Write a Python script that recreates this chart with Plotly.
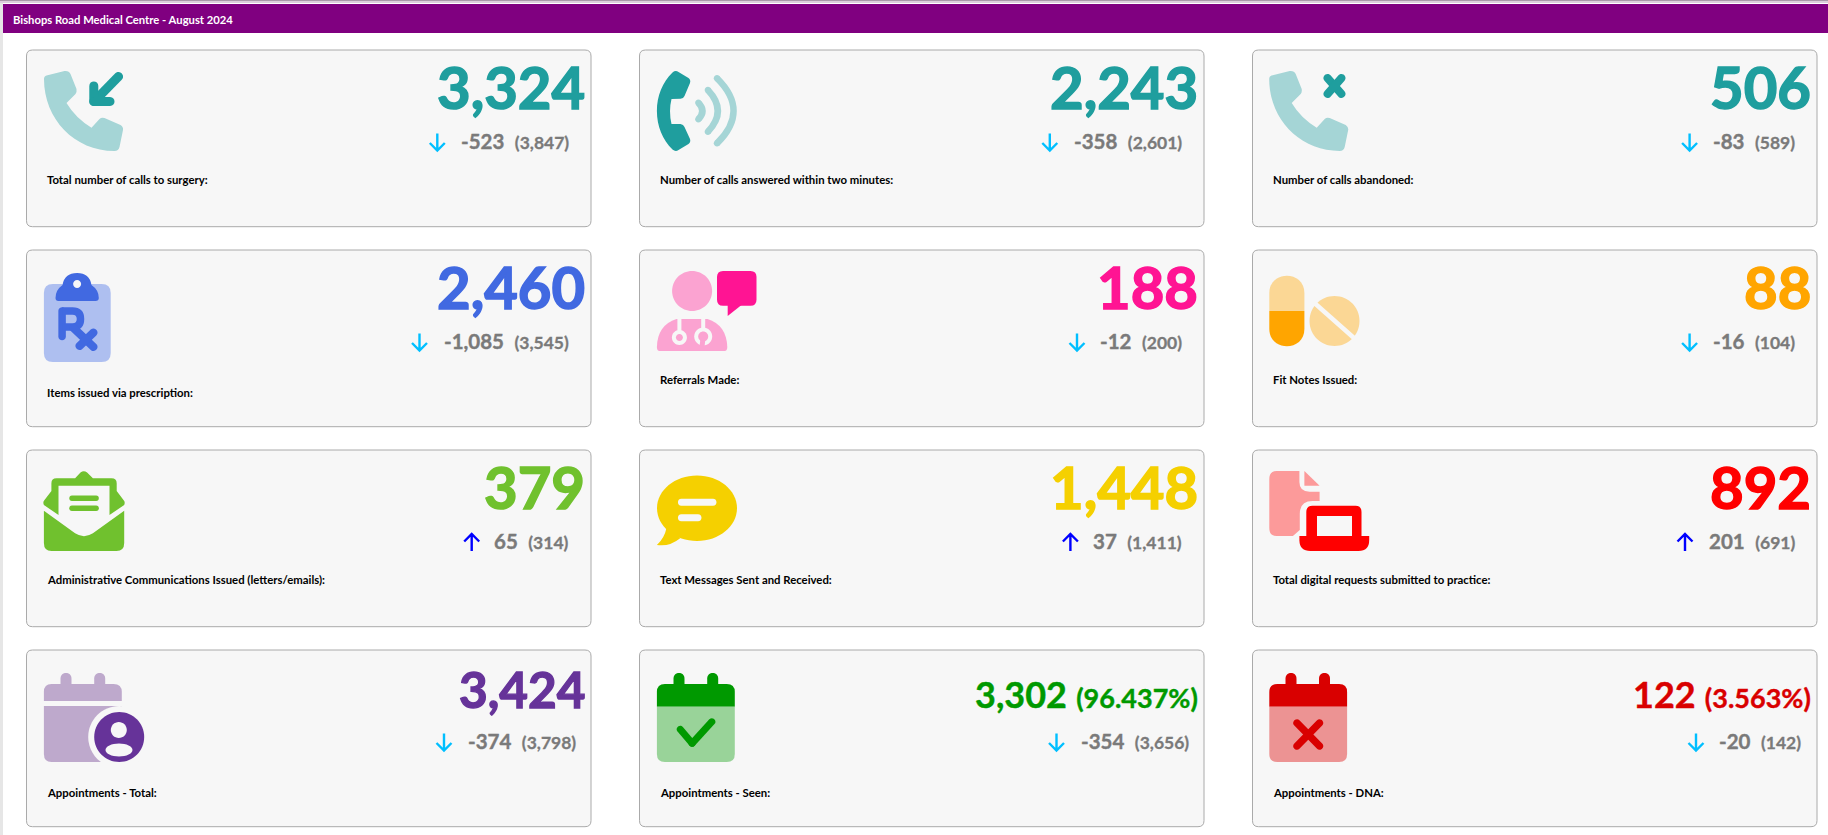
import math
import plotly.graph_objects as go

# Valores dos cartoes
titulo = "Bishops Road Medical Centre - August 2024"
rotulos = [
    "Total number of calls to surgery:", "Number of calls answered within two minutes:", "Number of calls abandoned:",
    "Items issued via prescription:", "Referrals Made:", "Fit Notes Issued:",
    "Administrative Communications Issued (letters/emails):", "Text Messages Sent and Received:",
    "Total digital requests submitted to practice:",
    "Appointments - Total:", "Appointments - Seen:", "Appointments - DNA:",
]
valores = [3324, 2243, 506, 2460, 188, 88, 379, 1448, 892, 3424, 3302, 122]
variacao = [-523, -358, -83, -1085, -12, -16, 65, 37, 201, -374, -354, -20]
anterior = [3847, 2601, 589, 3545, 200, 104, 314, 1411, 691, 3798, 3656, 142]
percentual = [None] * 10 + ["96.437%", "3.563%"]

cores = ["#1f9e9e", "#1f9e9e", "#1f9e9e", "#4169e1", "#ff1493", "#ffa500",
         "#70c12e", "#f5d000", "#ff0000", "#663399", "#009900", "#d90000"]

# Layout em pixels
L, A = 1828, 835
col_x = [26.5, 639.5, 1252.5]
col_dir = [591, 1204, 1817]
lin_y = [50, 250, 450, 650]
alt_cartao = 176.7
fundo = "#f7f7f7"
tam_valor = [58, 58, 58, 58, 58, 58, 58, 58, 58, 49.5, 36, 36]
traco_valor = [1.5, 1.5, 1.5, 1.5, 1.5, 1.5, 1.5, 1.5, 1.5, 1.3, 0.4, 0.4]
rot_y = [130, 130, 130, 143, 130, 130, 130, 130, 130, 143, 143, 143]
sub_dir = [22, 22, 22, 22, 22, 22, 22, 22, 22, 15, 15.5, 16]
seta_x = [437.3, 1049.8, 1689.6, 419.5, 1077, 1689.6, 471.7, 1070.4, 1685, 444, 1056.5, 1696]

shapes = []
annotations = []


def forma(d, cor, linha=None, lw=0):
    shapes.append(dict(type="path", path=d, xref="x", yref="y", fillcolor=cor, layer="above",
                       line=dict(color=linha or cor, width=lw)))


def retangulo(x0, y0, x1, y1, r):
    return (f"M{x0+r},{y0} L{x1-r},{y0} Q{x1},{y0} {x1},{y0+r} L{x1},{y1-r} Q{x1},{y1} {x1-r},{y1} "
            f"L{x0+r},{y1} Q{x0},{y1} {x0},{y1-r} L{x0},{y0+r} Q{x0},{y0} {x0+r},{y0} Z")


def elipse(cx, cy, rx, ry=None):
    ry = ry or rx
    k = 0.5523
    return (f"M{cx-rx},{cy} C{cx-rx},{cy-k*ry} {cx-k*rx},{cy-ry} {cx},{cy-ry} "
            f"C{cx+k*rx},{cy-ry} {cx+rx},{cy-k*ry} {cx+rx},{cy} "
            f"C{cx+rx},{cy+k*ry} {cx+k*rx},{cy+ry} {cx},{cy+ry} "
            f"C{cx-k*rx},{cy+ry} {cx-rx},{cy+k*ry} {cx-rx},{cy} Z")


def capsula(x0, y0, x1, y1, w):
    a = math.atan2(y1 - y0, x1 - x0)
    r = w / 2
    nx, ny = -math.sin(a) * r, math.cos(a) * r
    tx, ty = math.cos(a) * r * 1.33, math.sin(a) * r * 1.33
    return (f"M{x0+nx},{y0+ny} L{x1+nx},{y1+ny} C{x1+nx+tx},{y1+ny+ty} {x1-nx+tx},{y1-ny+ty} {x1-nx},{y1-ny} "
            f"L{x0-nx},{y0-ny} C{x0-nx-tx},{y0-ny-ty} {x0+nx-tx},{y0+ny-ty} {x0+nx},{y0+ny} Z")


def telefone(x, y, cor):
    forma(f"M{x+17.5},{y+29} Q{x+17.5},{y+26} {x+20},{y+25.5} L{x+38},{y+21} Q{x+42.5},{y+20.5} {x+44},{y+24} "
          f"L{x+50},{y+39} Q{x+50.5},{y+42} {x+49},{y+44} L{x+40},{y+53} Q{x+49},{y+68} {x+65},{y+77.7} "
          f"L{x+73},{y+69} Q{x+75},{y+67} {x+78},{y+68} L{x+94},{y+75} Q{x+97},{y+77} {x+96.5},{y+80} "
          f"L{x+93},{y+97} Q{x+92},{y+101} {x+88},{y+101} C{x+48},{y+101} {x+17.5},{y+69} {x+17.5},{y+29} Z", cor)


def arco(x, y, p0, c, p1, w, cor):
    shapes.append(dict(type="path", xref="x", yref="y", layer="above",
                       path=f"M{x+p0[0]},{y+p0[1]} Q{x+c[0]},{y+c[1]} {x+p1[0]},{y+p1[1]}",
                       line=dict(color=cor, width=w)))
    forma(elipse(x + p0[0], y + p0[1], w / 2), cor)
    forma(elipse(x + p1[0], y + p1[1], w / 2), cor)


def calendario_pinos(x, y, cor, x0, x1):
    for px in (x0, x1):
        forma(capsula(x + px, y + 28.5, x + px, y + 38, 11), cor)


# Icones, um por cartao
def icone_entrada(x, y, c, cl):
    telefone(x, y, cl)
    forma(capsula(x + 92, y + 26.5, x + 70, y + 49, 9), c)
    forma(capsula(x + 67.3, y + 36, x + 67.3, y + 51.5, 9), c)
    forma(capsula(x + 67.3, y + 51.5, x + 83.5, y + 51.5, 9), c)


def icone_atendidas(x, y, c, cl):
    forma(f"M{x+33},{y+22.5} Q{x+36},{y+20} {x+39},{y+22} L{x+49},{y+28} Q{x+51.5},{y+30} {x+50.5},{y+33} "
          f"L{x+45},{y+46} Q{x+44},{y+48.5} {x+41},{y+48.7} L{x+32},{y+49} Q{x+29},{y+61} {x+32},{y+74} "
          f"L{x+41},{y+74} Q{x+44},{y+74.5} {x+45},{y+77} L{x+50.5},{y+89} Q{x+51.5},{y+92} {x+49},{y+94} "
          f"L{x+39},{y+100} Q{x+36},{y+102} {x+33},{y+99.5} C{x+23},{y+90} {x+17.4},{y+76} {x+17.4},{y+61} "
          f"C{x+17.4},{y+46} {x+23},{y+32} {x+33},{y+22.5} Z", c)
    arco(x, y, (58.9, 52.7), (66.9, 61), (58.9, 69.3), 6.5, cl)
    arco(x, y, (68.4, 40), (88.2, 61), (68.4, 81.7), 6.5, cl)
    arco(x, y, (77.5, 28.3), (110.6, 61), (77.5, 93.3), 6.5, cl)


def icone_abandonadas(x, y, c, cl):
    telefone(x - 0.8, y, cl)
    forma(capsula(x + 75, y + 28, x + 89, y + 44, 8), c)
    forma(capsula(x + 89, y + 28, x + 75, y + 44, 8), c)


def icone_receita(x, y, c, cl):
    forma(retangulo(x + 17.4, y + 34, x + 84.2, y + 112, 9), cl)
    forma(f"M{x+29},{y+48} Q{x+29},{y+40} {x+36},{y+35} Q{x+38},{y+23} {x+50.6},{y+23} Q{x+63},{y+23} {x+65},{y+35} "
          f"Q{x+72.3},{y+40} {x+72.3},{y+48} Q{x+72.3},{y+51} {x+69},{y+51} L{x+32},{y+51} Q{x+29},{y+51} {x+29},{y+48} Z", c)
    forma(elipse(x + 50.6, y + 34, 4), fundo)
    forma(capsula(x + 35.6, y + 61, x + 35.6, y + 86.5, 7.5), c)
    shapes.append(dict(type="path", xref="x", yref="y", layer="above",
                       path=f"M{x+35.6},{y+61} L{x+46},{y+61} Q{x+54},{y+61} {x+54},{y+69} Q{x+54},{y+77} {x+46},{y+77} L{x+35.6},{y+77}",
                       line=dict(color=c, width=7.5)))
    forma(capsula(x + 47, y + 78, x + 67, y + 97, 8), c)
    forma(capsula(x + 67, y + 82.5, x + 53, y + 96, 8), c)


def icone_medico(x, y, c, cl):
    forma(elipse(x + 52.6, y + 41, 20), cl)
    forma(f"M{x+20},{y+101} Q{x+17.4},{y+101} {x+17.4},{y+97} Q{x+18},{y+75} {x+37},{y+69} L{x+68},{y+69} "
          f"Q{x+87},{y+75} {x+87.8},{y+97} Q{x+87.8},{y+101} {x+85},{y+101} Z", cl)
    forma(capsula(x + 39.9, y + 68, x + 39.9, y + 82, 4), fundo)
    forma(elipse(x + 39.9, y + 87.5, 7.5), fundo)
    forma(elipse(x + 39.9, y + 87.5, 3.5), cl)
    forma(capsula(x + 63.7, y + 68, x + 63.7, y + 79, 4), fundo)
    forma(elipse(x + 63.7, y + 86.5, 9), fundo)
    forma(elipse(x + 63.7, y + 86.5, 5), cl)
    forma(f"M{x+61},{y+88} L{x+66},{y+88} L{x+65},{y+97} L{x+60},{y+97} Z", cl)
    forma(retangulo(x + 77.5, y + 21, x + 117, y + 55.7, 6), c)
    forma(f"M{x+88.2},{y+55} L{x+88.2},{y+66} L{x+102},{y+55} Z", c)


def icone_pilulas(x, y, c, cl):
    forma(f"M{x+16.8},{y+61} L{x+16.8},{y+43} C{x+16.8},{y+20} {x+51.9},{y+20} {x+51.9},{y+43} L{x+51.9},{y+61} Z", cl)
    forma(f"M{x+16.8},{y+61} L{x+16.8},{y+79} C{x+16.8},{y+102} {x+51.9},{y+102} {x+51.9},{y+79} L{x+51.9},{y+61} Z", c)
    forma(elipse(x + 82, y + 71, 25), cl)
    forma(capsula(x + 62.5, y + 53.5, x + 101.5, y + 88, 4.5), fundo)


def icone_envelope(x, y, c, cl):
    forma(f"M{x+17.4},{y+60.7} L{x+48.6},{y+83.3} Q{x+57.5},{y+89} {x+66.4},{y+83.3} L{x+97.7},{y+60.7} "
          f"L{x+97.7},{y+93} Q{x+97.7},{y+101} {x+90},{y+101} L{x+25},{y+101} Q{x+17.4},{y+101} {x+17.4},{y+93} Z", c)
    forma(f"M{x+17.4},{y+55} Q{x+16},{y+52} {x+18},{y+50} L{x+24.9},{y+41} L{x+24.9},{y+33.3} Q{x+24.9},{y+28.3} {x+30},{y+28.3} "
          f"L{x+48.6},{y+28.3} L{x+54},{y+22.5} Q{x+57.3},{y+20} {x+60.6},{y+22.5} L{x+66.4},{y+28.3} L{x+85},{y+28.3} "
          f"Q{x+90.2},{y+28.3} {x+90.2},{y+33.3} L{x+90.2},{y+41} L{x+97},{y+50} Q{x+99},{y+52} {x+97.7},{y+55} "
          f"L{x+83},{y+65} L{x+83},{y+35.7} L{x+32},{y+35.7} L{x+32},{y+65} Z", c)
    forma(capsula(x + 45.5, y + 48.3, x + 69.6, y + 48.3, 5.5), c)
    forma(capsula(x + 45.5, y + 58.3, x + 69.6, y + 58.3, 5.5), c)


def icone_mensagem(x, y, c, cl):
    forma(elipse(x + 57.5, y + 58.3, 40, 32.7), c)
    forma(f"M{x+27},{y+78} Q{x+25},{y+88} {x+17.4},{y+95} Q{x+30},{y+97} {x+41},{y+88} Z", c)
    forma(capsula(x + 41.9, y + 52.3, x + 73.5, y + 52.3, 7), fundo)
    forma(capsula(x + 41.9, y + 67.7, x + 58.5, y + 67.7, 7), fundo)


def icone_digital(x, y, c, cl):
    forma(f"M{x+24},{y+21} L{x+46.9},{y+21} L{x+46.9},{y+32} Q{x+46.9},{y+41.7} {x+57},{y+41.7} L{x+67.1},{y+41.7} "
          f"L{x+67.1},{y+51} L{x+60},{y+51} Q{x+47.3},{y+51} {x+47.3},{y+64} L{x+47.3},{y+80} L{x+40.4},{y+86} "
          f"L{x+24},{y+86} Q{x+16.8},{y+86} {x+16.8},{y+78} L{x+16.8},{y+29} Q{x+16.8},{y+21} {x+24},{y+21} Z", cl)
    forma(f"M{x+51.9},{y+21} L{x+67.1},{y+35.7} L{x+51.9},{y+35.7} Z", cl)
    forma(f"M{x+53.8},{y+88} L{x+53.8},{y+62} Q{x+53.8},{y+55.7} {x+60},{y+55.7} L{x+103},{y+55.7} Q{x+109},{y+55.7} {x+109},{y+62} "
          f"L{x+109},{y+88} Z", c)
    forma(f"M{x+64.5},{y+66} L{x+99.5},{y+66} L{x+99.5},{y+87} L{x+64.5},{y+87} Z", fundo)
    forma(f"M{x+46.9},{y+86} L{x+116.7},{y+86} L{x+116.7},{y+90} Q{x+116.7},{y+101} {x+106},{y+101} L{x+58},{y+101} "
          f"Q{x+46.9},{y+101} {x+46.9},{y+90} Z", c)


def icone_cal_total(x, y, c, cl):
    calendario_pinos(x, y, cl, 39.5, 73.2)
    forma(f"M{x+17.4},{y+51} L{x+17.4},{y+42} Q{x+17.4},{y+34} {x+25},{y+34} L{x+87},{y+34} Q{x+95.3},{y+34} {x+95.3},{y+42} L{x+95.3},{y+51} Z", cl)
    forma(f"M{x+17.4},{y+56} L{x+95.3},{y+56} L{x+95.3},{y+112} L{x+25},{y+112} Q{x+17.4},{y+112} {x+17.4},{y+104} Z", cl)
    forma(elipse(x + 92.7, y + 87, 31), fundo)
    forma(elipse(x + 92.7, y + 87, 25), c)
    forma(elipse(x + 92.3, y + 80, 8), fundo)
    forma(elipse(x + 92.5, y + 100, 13.5, 6.5), fundo)


def icone_cal_status(x, y, c, cl, x0, x1, p0, p1):
    calendario_pinos(x, y, c, p0, p1)
    forma(f"M{x+x0},{y+56.7} L{x+x0},{y+42} Q{x+x0},{y+34} {x+x0+8},{y+34} L{x+x1-8},{y+34} Q{x+x1},{y+34} {x+x1},{y+42} L{x+x1},{y+56.7} Z", c)
    forma(f"M{x+x0},{y+56.7} L{x+x1},{y+56.7} L{x+x1},{y+104} Q{x+x1},{y+112} {x+x1-8},{y+112} L{x+x0+8},{y+112} Q{x+x0},{y+112} {x+x0},{y+104} Z", cl)


def icone_cal_visto(x, y, c, cl):
    icone_cal_status(x, y, c, cl, 17.4, 95.3, 39.5, 73.2)
    forma(capsula(x + 40.7, y + 79.3, x + 52.6, y + 93.3, 7), c)
    forma(capsula(x + 52.6, y + 93.3, x + 72.4, y + 71.7, 7), c)


def icone_cal_falta(x, y, c, cl):
    icone_cal_status(x, y, c, cl, 16.8, 94.6, 38.5, 72)
    forma(capsula(x + 44.5, y + 73, x + 67, y + 96, 7.5), c)
    forma(capsula(x + 67, y + 73, x + 44.5, y + 96, 7.5), c)


icones = [icone_entrada, icone_atendidas, icone_abandonadas, icone_receita, icone_medico, icone_pilulas,
          icone_envelope, icone_mensagem, icone_digital, icone_cal_total, icone_cal_visto, icone_cal_falta]
cores_claras = ["#a5d5d6", "#a5d5d6", "#a5d5d6", "#aebff0", "#fba3d1", "#fbd795",
                "#70c12e", "#f5d000", "#fc9a9a", "#bea9cc", "#99d399", "#ec9393"]


def grosso(conteudo, cor, traco, tam=None):
    # Lato Bold com um contorno fino, para chegar ao peso do original
    estilo = f"stroke:{cor};stroke-width:{traco}px;"
    if tam:
        estilo += f"font-size:{tam}px;"
    return f'<b><span style="{estilo}">{conteudo}</span></b>'


def texto(x, base, conteudo, tam, cor, anc):
    annotations.append(dict(x=x, y=base - 0.36 * tam, xref="x", yref="y", text=conteudo, showarrow=False,
                            xanchor=anc, yanchor="middle", borderpad=0, borderwidth=0,
                            font=dict(family="Lato", size=tam, color=cor)))


# Cabecalho
shapes.append(dict(type="rect", x0=0, x1=L, y0=0, y1=1, fillcolor="#a99aa9", line_width=0, layer="below"))
shapes.append(dict(type="rect", x0=0, x1=L, y0=1, y1=3, fillcolor="#dccfdc", line_width=0, layer="below"))
shapes.append(dict(type="rect", x0=0, x1=3, y0=3, y1=A, fillcolor="#e6e6e6", line_width=0, layer="below"))
shapes.append(dict(type="rect", x0=3, x1=L, y0=4, y1=33, fillcolor="#800080", line_width=0, layer="below"))
texto(13, 23.5, f"<b>{titulo}</b>", 11.25, "#ffffff", "left")

# Cartoes
for i in range(12):
    lin, col = divmod(i, 3)
    x, y = col_x[col], lin_y[lin]
    dir_ = col_dir[col]
    cor = cores[i]
    forma(retangulo(x, y, dir_, y + alt_cartao, 6), fundo, "#aaaaaa", 1)
    icones[i](x, y, cor, cores_claras[i])

    # numero principal
    num = grosso(f"{valores[i]:,}", cor, traco_valor[i])
    if percentual[i]:
        num += " " + grosso(f"({percentual[i]})", cor, traco_valor[i], 27)
    texto(dir_ - 6.5, y + 57, num, tam_valor[i], cor, "right")

    # variacao e mes anterior
    sub = grosso(f"{variacao[i]:,}", "#7a7a7a", 0.4) + "\u00a0 " + grosso(f"({anterior[i]:,})", "#7a7a7a", 0.3, 17.5)
    texto(dir_ - sub_dir[i], y + 98.7, sub, 20.5, "#7a7a7a", "right")

    # seta
    sx = seta_x[i]
    if variacao[i] < 0:
        seta = f"M{sx},{y+83.5} L{sx},{y+100} M{sx-7.5},{y+93} L{sx},{y+100.5} L{sx+7.5},{y+93}"
        cs = "#00bfff"
    else:
        seta = f"M{sx},{y+101} L{sx},{y+84.5} M{sx-7.5},{y+91.5} L{sx},{y+84} L{sx+7.5},{y+91.5}"
        cs = "#0000ff"
    shapes.append(dict(type="path", path=seta, xref="x", yref="y", layer="above", line=dict(color=cs, width=2.4)))

    # rotulo
    texto(x + 20.5, y + rot_y[i] + 4, f"<b>{rotulos[i]}</b>", 11.35, "#000000", "left")

fig = go.Figure()
fig.update_layout(
    width=L, height=A, margin=dict(l=0, r=0, t=0, b=0), paper_bgcolor="#ffffff", plot_bgcolor="#ffffff",
    xaxis=dict(range=[0, L], visible=False), yaxis=dict(range=[A, 0], visible=False),
    shapes=shapes, annotations=annotations, showlegend=False,
)
fig.write_html("out.html", config={"displayModeBar": False}, post_script="document.body.style.margin='0';")
